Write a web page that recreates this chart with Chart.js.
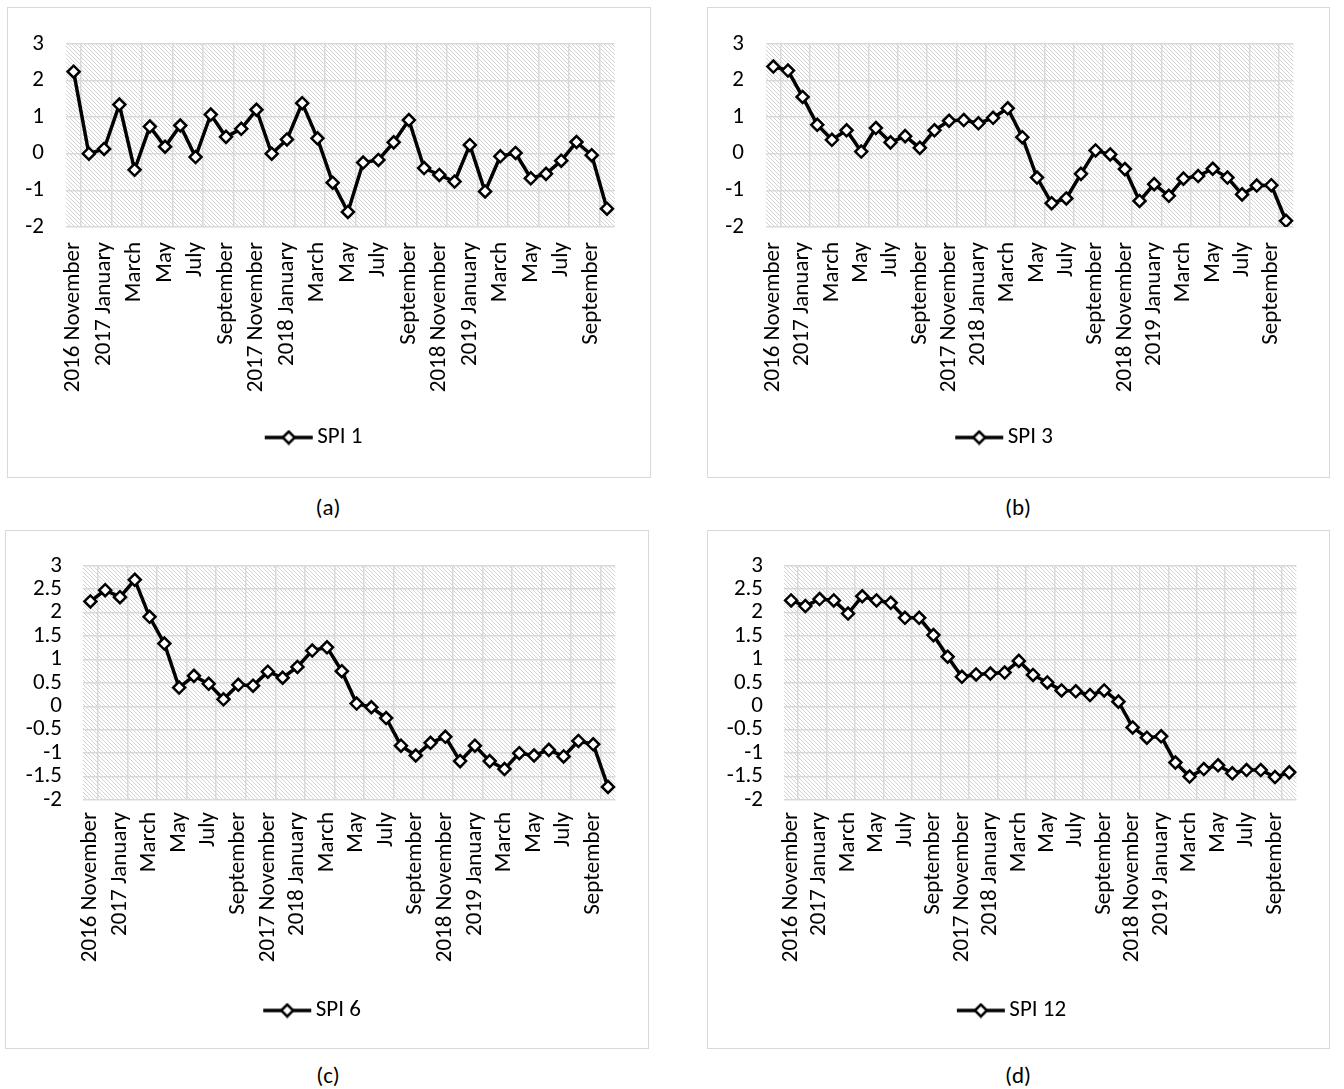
<!DOCTYPE html>
<html>
<head>
<meta charset="utf-8">
<script src="https://cdn.jsdelivr.net/npm/chart.js@4.4.0/dist/chart.umd.min.js"></script>
<style>
  body { margin: 0; background: #fff; width: 1344px; height: 1089px; position: relative; overflow: hidden;
         font-family: Carlito, Calibri, Lato, sans-serif; color: #000; }
  .box { position: absolute; border: 1px solid #d9d9d9; box-sizing: border-box; }
  .box canvas { position: absolute; left: 0; top: 0; }
  .cap { position: absolute; width: 80px; text-align: center; font-size: 23px; line-height: 26px; }
</style>
</head>
<body>
<div class="box" style="left:7px;top:7px;width:644px;height:471px"><canvas id="chA"></canvas></div>
<div class="box" style="left:707px;top:7px;width:623px;height:471px"><canvas id="chB"></canvas></div>
<div class="box" style="left:5px;top:530px;width:644px;height:519px"><canvas id="chC"></canvas></div>
<div class="box" style="left:707px;top:530px;width:623px;height:519px"><canvas id="chD"></canvas></div>
<div class="cap" style="left:288px;top:494px">(a)</div>
<div class="cap" style="left:978px;top:494px">(b)</div>
<div class="cap" style="left:288px;top:1062px">(c)</div>
<div class="cap" style="left:978px;top:1062px">(d)</div>
<script>
// months, Nov 2016 - Oct 2019
const months = ['2016 November', 'December', '2017 January', 'February', 'March', 'April', 'May', 'June',
  'July', 'August', 'September', 'October', '2017 November', 'December', '2018 January', 'February',
  'March', 'April', 'May', 'June', 'July', 'August', 'September', 'October', '2018 November', 'December',
  '2019 January', 'February', 'March', 'April', 'May', 'June', 'July', 'August', 'September', 'October'];

const spi1 = [2.24, 0.0, 0.13, 1.34, -0.44, 0.74, 0.19, 0.77, -0.09, 1.07, 0.46, 0.68, 1.2, 0.0, 0.39, 1.38,
  0.42, -0.79, -1.59, -0.24, -0.17, 0.31, 0.92, -0.39, -0.58, -0.76, 0.24, -1.03, -0.07, 0.02, -0.67, -0.55,
  -0.19, 0.32, -0.04, -1.5];
const spi3 = [2.38, 2.27, 1.55, 0.79, 0.38, 0.64, 0.06, 0.70, 0.31, 0.48, 0.16, 0.64, 0.90, 0.92, 0.83, 0.98,
  1.24, 0.45, -0.65, -1.35, -1.22, -0.55, 0.09, -0.02, -0.42, -1.29, -0.83, -1.15, -0.68, -0.61, -0.41, -0.65,
  -1.11, -0.87, -0.86, -1.83];
const spi6 = [2.24, 2.48, 2.33, 2.70, 1.91, 1.34, 0.40, 0.65, 0.48, 0.15, 0.46, 0.44, 0.74, 0.61, 0.84, 1.19,
  1.26, 0.75, 0.06, -0.02, -0.25, -0.84, -1.05, -0.78, -0.65, -1.17, -0.84, -1.17, -1.34, -1.0, -1.05, -0.93,
  -1.07, -0.74, -0.81, -1.72];
const spi12 = [2.26, 2.14, 2.29, 2.26, 1.98, 2.35, 2.26, 2.21, 1.89, 1.89, 1.52, 1.06, 0.63, 0.68, 0.70, 0.72,
  0.97, 0.67, 0.51, 0.34, 0.32, 0.24, 0.34, 0.10, -0.45, -0.67, -0.64, -1.2, -1.5, -1.34, -1.26, -1.43,
  -1.36, -1.36, -1.51, -1.41];

Chart.defaults.font.family = 'Carlito, Calibri, Lato, sans-serif';
Chart.defaults.font.size = 23;
Chart.defaults.color = '#000';

// hatch tile for the plot area
const hatch = document.createElement('canvas');
hatch.width = 4; hatch.height = 4;
(function () {
  const g = hatch.getContext('2d');
  g.fillStyle = '#fff'; g.fillRect(0, 0, 4, 4);
  g.fillStyle = '#d2d2d2';
  for (let i = 0; i < 4; i++) g.fillRect(i, i, 1, 1);
})();

// legend sample: line with a diamond (extra room on the right so the text sits close)
const legendIcon = document.createElement('canvas');
legendIcon.width = 62; legendIcon.height = 16;
(function () {
  const g = legendIcon.getContext('2d');
  g.strokeStyle = '#000'; g.lineWidth = 3.5;
  g.beginPath(); g.moveTo(10, 8); g.lineTo(58, 8); g.stroke();
  g.beginPath();
  g.moveTo(28, 8); g.lineTo(34, 2); g.lineTo(40, 8); g.lineTo(34, 14); g.closePath();
  g.fillStyle = '#fff'; g.fill();
  g.lineWidth = 2.5; g.stroke();
})();

const plotBg = {
  id: 'plotBg',
  beforeDraw(chart) {
    const { ctx, chartArea: a } = chart;
    ctx.save();
    ctx.fillStyle = ctx.createPattern(hatch, 'repeat');
    ctx.fillRect(a.left, a.top, a.right - a.left, a.bottom - a.top);
    ctx.restore();
  }
};

function makeChart(id, label, values, step, g) {
  const el = document.getElementById(id);
  el.width = g.w; el.height = g.h;
  el.style.width = g.w + 'px'; el.style.height = g.h + 'px';
  return new Chart(el, {
    type: 'line',
    data: {
      labels: months,
      datasets: [{
        label: label,
        data: values,
        borderColor: '#000',
        borderWidth: 3.5,
        tension: 0,
        pointStyle: 'rectRot',
        pointRadius: 6,
        pointBorderWidth: 2.5,
        pointBackgroundColor: '#fff',
        pointBorderColor: '#000'
      }]
    },
    options: {
      responsive: false,
      animation: false,
      layout: { padding: { left: 0, top: g.top, right: g.right, bottom: g.bottom } },
      plugins: {
        tooltip: { enabled: false },
        legend: {
          position: 'bottom',
          labels: { usePointStyle: true, pointStyle: legendIcon, pointStyleWidth: 40, padding: 10, color: '#000' }
        }
      },
      scales: {
        x: {
          offset: true,
          border: { display: false },
          grid: {
            offset: true,
            drawTicks: false,
            lineWidth: 1.5,
            color: (c) => (c.index % 2 === 1 ? '#d9d9d9' : 'rgba(0,0,0,0)')
          },
          ticks: {
            autoSkip: false,
            minRotation: 90,
            maxRotation: 90,
            padding: g.xPad,
            callback: (v, i) => (i % 2 === 0 ? months[i] : '')
          },
          afterFit: (s) => { s.height = g.xH; }
        },
        y: {
          min: -2,
          max: 3,
          border: { display: false },
          grid: { drawTicks: false, lineWidth: 1.5, color: '#d9d9d9' },
          ticks: {
            stepSize: step,
            autoSkip: false,
            padding: g.yPad,
            callback: (v) => String(Math.round(v * 10) / 10)
          },
          afterFit: (s) => { s.width = g.yW; }
        }
      }
    },
    plugins: [plotBg]
  });
}

makeChart('chA', 'SPI 1', spi1, 1, { w: 642, h: 469, top: 28, right: 30, bottom: 18, yW: 58, xH: 189, xPad: 15, yPad: 22 });
makeChart('chB', 'SPI 3', spi3, 1, { w: 621, h: 469, top: 28, right: 28, bottom: 18, yW: 58, xH: 189, xPad: 15, yPad: 22 });
makeChart('chC', 'SPI 6', spi6, 0.5, { w: 642, h: 517, top: 24, right: 29, bottom: 16, yW: 77, xH: 189, xPad: 12, yPad: 21 });
makeChart('chD', 'SPI 12', spi12, 0.5, { w: 621, h: 517, top: 24, right: 13, bottom: 16, yW: 76, xH: 189, xPad: 12, yPad: 21 });
</script>
</body>
</html>
